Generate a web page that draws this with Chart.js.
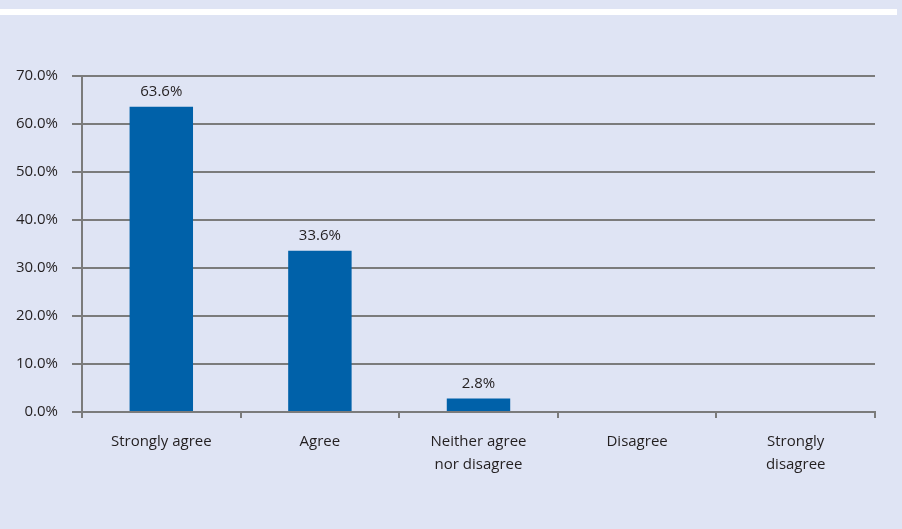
<!DOCTYPE html>
<html>
<head>
<meta charset="utf-8">
<script src="https://cdn.jsdelivr.net/npm/chart.js@4.4.1/dist/chart.umd.min.js"></script>
<style>
  html, body { margin: 0; padding: 0; background: #dfe4f4; }
  #wrap { width: 902px; height: 529px; position: relative; }
</style>
</head>
<body>
<div id="wrap"><canvas id="c" width="902" height="529"></canvas></div>
<script>
// Survey responses (share of respondents, %)
const categories = ['Strongly agree', 'Agree', ['Neither agree', 'nor disagree'], 'Disagree', ['Strongly', 'disagree']];
const shares = [63.6, 33.6, 2.8, 0, 0];
const yTicks = [0, 10, 20, 30, 40, 50, 60, 70];

const FONT = 'Open Sans, Noto Sans, sans-serif';
const TEXT = '#231f20';
const LINE = '#7b7b7b';

// Page panel: lavender background with a thin white band near the top
const panel = {
  id: 'panel',
  beforeDraw(chart) {
    const ctx = chart.ctx;
    ctx.save();
    ctx.fillStyle = '#dfe4f4';
    ctx.fillRect(0, 0, chart.width, chart.height);
    ctx.fillStyle = '#ffffff';
    ctx.fillRect(0, 9, 897, 6);
    ctx.restore();
  }
};

// Percentage labels above each non-zero bar
const valueLabels = {
  id: 'valueLabels',
  afterDatasetsDraw(chart) {
    const ctx = chart.ctx;
    const meta = chart.getDatasetMeta(0);
    ctx.save();
    ctx.font = '15px ' + FONT;
    ctx.fillStyle = TEXT;
    ctx.textAlign = 'center';
    ctx.textBaseline = 'middle';
    meta.data.forEach((bar, i) => {
      const v = shares[i];
      if (!v) return;
      ctx.fillText(v.toFixed(1) + '%', bar.x, bar.y - 15);
    });
    ctx.restore();
  }
};

new Chart(document.getElementById('c'), {
  type: 'bar',
  data: {
    labels: categories,
    datasets: [{
      data: shares,
      backgroundColor: '#0061a9',
      categoryPercentage: 1,
      barPercentage: 0.4
    }]
  },
  options: {
    responsive: false,
    animation: false,
    layout: { padding: { left: 0, right: 27, top: 76, bottom: 0 } },
    plugins: { legend: { display: false }, tooltip: { enabled: false } },
    scales: {
      x: {
        grid: {
          offset: true,
          drawOnChartArea: false,
          drawTicks: true,
          tickLength: 6,
          color: LINE,
          lineWidth: 2
        },
        border: { color: LINE, width: 2 },
        ticks: {
          color: TEXT,
          font: { family: FONT, size: 15, lineHeight: 1.55 },
          padding: 12,
          maxRotation: 0,
          autoSkip: false
        },
        afterFit(scale) { scale.height = 529 - 412; }
      },
      y: {
        min: 0,
        max: 70,
        afterBuildTicks(scale) { scale.ticks = yTicks.map(v => ({ value: v })); },
        grid: {
          color: LINE,
          lineWidth: 2,
          drawTicks: true,
          tickLength: 10
        },
        border: { color: LINE, width: 2 },
        ticks: {
          color: TEXT,
          font: { family: FONT, size: 15 },
          padding: 14,
          callback: v => v.toFixed(1) + '%'
        },
        afterFit(scale) { scale.width = 82; }
      }
    }
  },
  plugins: [panel, valueLabels]
});
</script>
</body>
</html>
